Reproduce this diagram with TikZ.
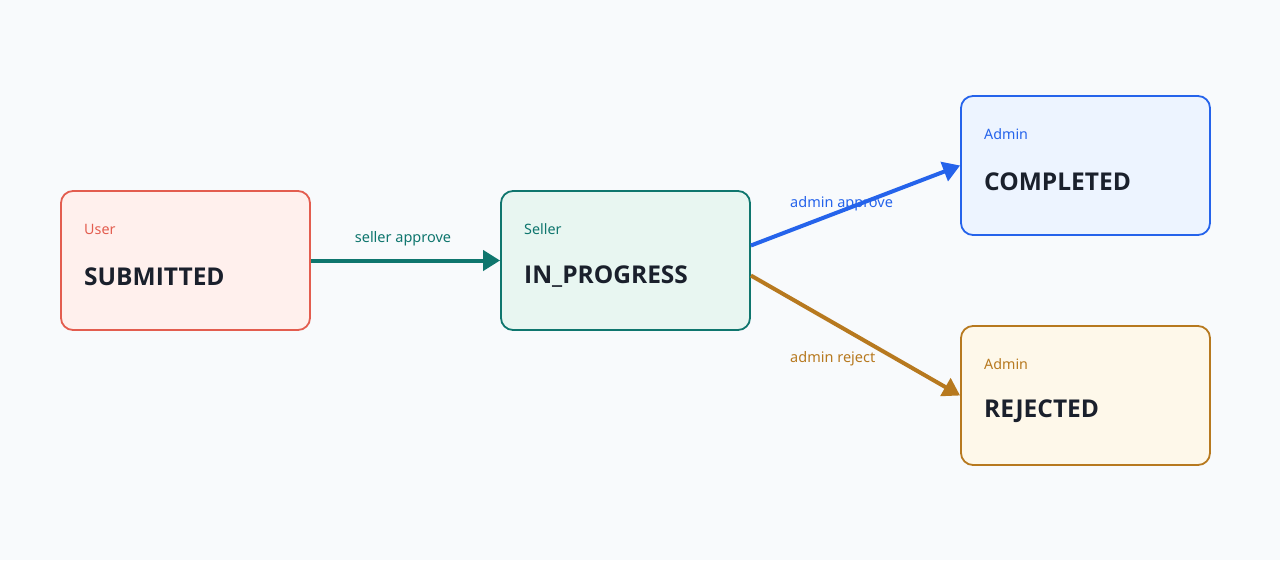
\documentclass[tikz,border=0pt]{standalone}
\usepackage{fontspec}
\setmainfont{Noto Sans}
\newfontfamily\titlefont{Open Sans}
\usetikzlibrary{arrows.meta,calc}
\definecolor{bg}{HTML}{F8FAFC}
\definecolor{redS}{HTML}{E35D4F}
\definecolor{redF}{HTML}{FFF0ED}
\definecolor{tealS}{HTML}{0F766E}
\definecolor{tealF}{HTML}{E8F6F1}
\definecolor{blueS}{HTML}{2563EB}
\definecolor{blueF}{HTML}{EDF4FF}
\definecolor{brownS}{HTML}{B7791F}
\definecolor{brownF}{HTML}{FEF8EA}
\definecolor{dark}{HTML}{1A202C}
\tikzset{
  statebox/.style={draw, line width=1.8pt, rounded corners=12pt, minimum width=249pt, minimum height=139pt, inner sep=0pt},
  role/.style={anchor=west, font=\fontsize{14.3}{16}\selectfont, inner sep=0pt},
  title/.style={anchor=west, font=\fontsize{24.5}{27}\titlefont\bfseries, text=dark, inner sep=0pt},
  elabel/.style={font=\fontsize{14.5}{16}\selectfont, inner sep=0pt},
  conn/.style={line width=4pt, -{Triangle[length=17pt,width=20pt]}, shorten >=0pt}
}
\begin{document}
\begin{tikzpicture}[x=1pt,y=-1pt]
\fill[bg] (0,0) rectangle (1280,560);
\useasboundingbox (0,0) rectangle (1280,560);
\node[statebox, draw=redS, fill=redF] (sub) at (185.5,260.5) {};
\node[statebox, draw=tealS, fill=tealF] (prog) at (625.5,260.5) {};
\node[statebox, draw=blueS, fill=blueF] (comp) at (1085.5,165.5) {};
\node[statebox, draw=brownS, fill=brownF] (rej) at (1085.5,395.5) {};

\node[role, text=redS] (subr) at (84,229) {User};
\node[title] (subt) at (84,276.5) {SUBMITTED};
\node[role, text=tealS] (progr) at (524,229) {Seller};
\node[title] (progt) at (524,276.5) {IN\_PROGRESS};
\node[role, text=blueS] (compr) at (984,134) {Admin};
\node[title] (compt) at (984,181.5) {COMPLETED};
\node[role, text=brownS] (rejr) at (984,364) {Admin};
\node[title] (rejt) at (984,411.5) {REJECTED};

\draw[conn, tealS] (sub.east) -- (prog.west);
\draw[conn, blueS] ($(prog.east)+(0,-15)$) -- (comp.west);
\draw[conn, brownS] ($(prog.east)+(0,15)$) -- (rej.west);

\node[elabel, text=tealS] (l1) at (403,238.5) {seller approve};
\node[elabel, text=blueS, anchor=west] (l2) at (790,203.5) {admin approve};
\node[elabel, text=brownS, anchor=west] (l3) at (790,358.5) {admin reject};
\end{tikzpicture}
\end{document}
